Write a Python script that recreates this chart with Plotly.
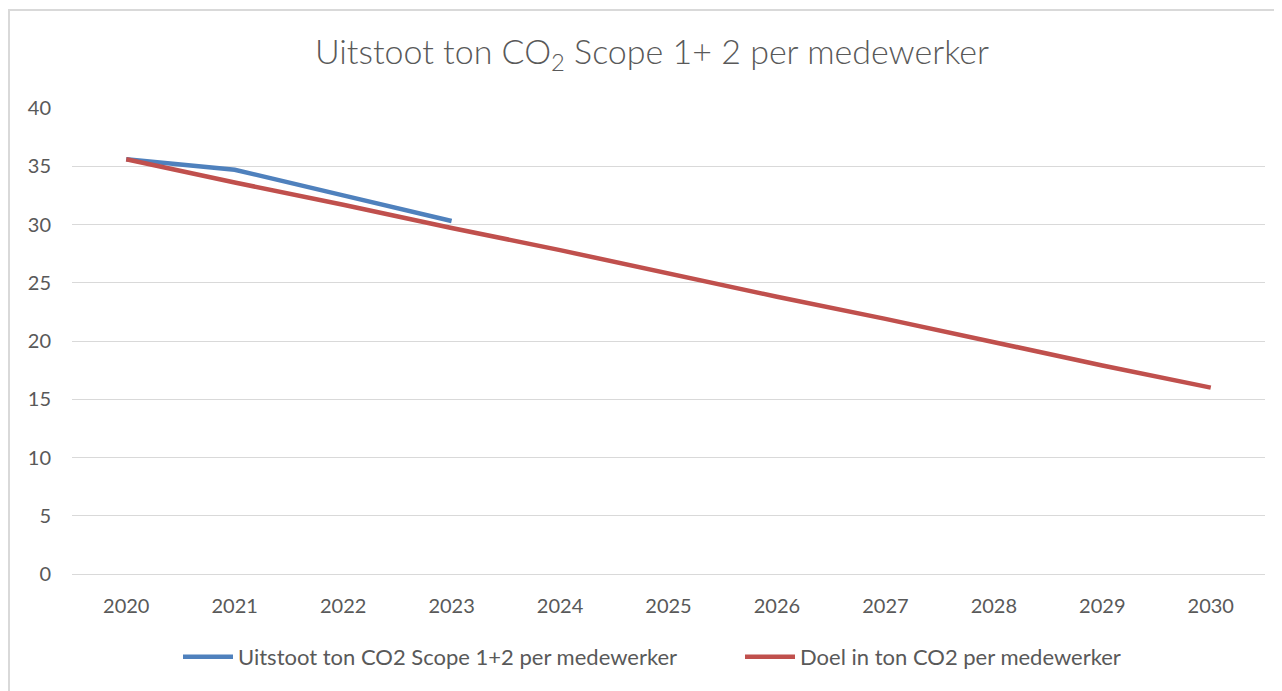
import plotly.graph_objects as go

years = ["2020", "2021", "2022", "2023", "2024", "2025", "2026", "2027", "2028", "2029", "2030"]
uitstoot_years = ["2020", "2021", "2022", "2023"]
uitstoot = [35.6, 34.7, 32.5, 30.3]
doel = [35.6, 33.6, 31.7, 29.7, 27.8, 25.8, 23.8, 21.9, 19.9, 17.9, 16.0]

FONT = "Lato"
GREY = "#595959"

fig = go.Figure()
fig.add_trace(go.Scatter(x=uitstoot_years, y=uitstoot, mode="lines",
                         name="Uitstoot ton CO2 Scope 1+2 per medewerker",
                         line=dict(color="#4f81bd", width=4.5), legend="legend"))
fig.add_trace(go.Scatter(x=years, y=doel, mode="lines",
                         name="Doel in ton CO2 per medewerker",
                         line=dict(color="#c0504d", width=4.5), legend="legend2"))

# page has an 8px body margin; figure placed at (8, 8)
OFF = 8
W, H = 1282 - OFF, 691 - OFF
L, R, T, B = 72 - OFF, 17, 108 - OFF, 117
pw, ph = W - L - R, H - T - B

def px_x(page_x):
    return (page_x - 72) / pw

leg_y = -(657 - 574) / ph
leg_common = dict(orientation="h", yanchor="middle", y=leg_y, xanchor="left",
                  font=dict(size=22, color=GREY, family=FONT), itemwidth=50,
                  bgcolor="rgba(0,0,0,0)")

fig.update_layout(
    width=W, height=H,
    margin=dict(l=L, r=R, t=T, b=B),
    paper_bgcolor="white", plot_bgcolor="white",
    font=dict(family=FONT, color=GREY, size=16),
    title=dict(text="Uitstoot ton CO<sub>2</sub> Scope 1+ 2 per medewerker",
               x=(652 - OFF) / W, xanchor="center", xref="container",
               y=1 - (52 - OFF) / H, yanchor="middle",
               font=dict(family=FONT, size=34, color=GREY, weight=300)),
    xaxis=dict(type="category", categoryorder="array", categoryarray=years,
               range=[-0.5, 10.5], showgrid=False, showline=True,
               linecolor="#d9d9d9", linewidth=1, ticks="", ticklabelstandoff=14,
               tickfont=dict(size=20, color=GREY, family=FONT), fixedrange=True),
    yaxis=dict(range=[0, 40], dtick=5, showgrid=True, gridcolor="#d9d9d9",
               gridwidth=1, zeroline=False, showline=False, ticks="",
               ticklabelstandoff=20, tickfont=dict(size=20, color=GREY, family=FONT)),
    legend=dict(x=px_x(178), **leg_common),
    legend2=dict(x=px_x(740), **leg_common),
    showlegend=True,
)

# chart border (cropped at right/bottom in the reference)
fig.add_shape(type="rect", xref="paper", yref="paper",
              x0=(9 - 72) / pw, x1=(1282 + 20 - 72) / pw,
              y0=-(B + 20) / ph, y1=1 + (108 - 10) / ph,
              line=dict(color="#d9d9d9", width=2), fillcolor="rgba(0,0,0,0)", layer="below")

fig.write_html("out.html")
